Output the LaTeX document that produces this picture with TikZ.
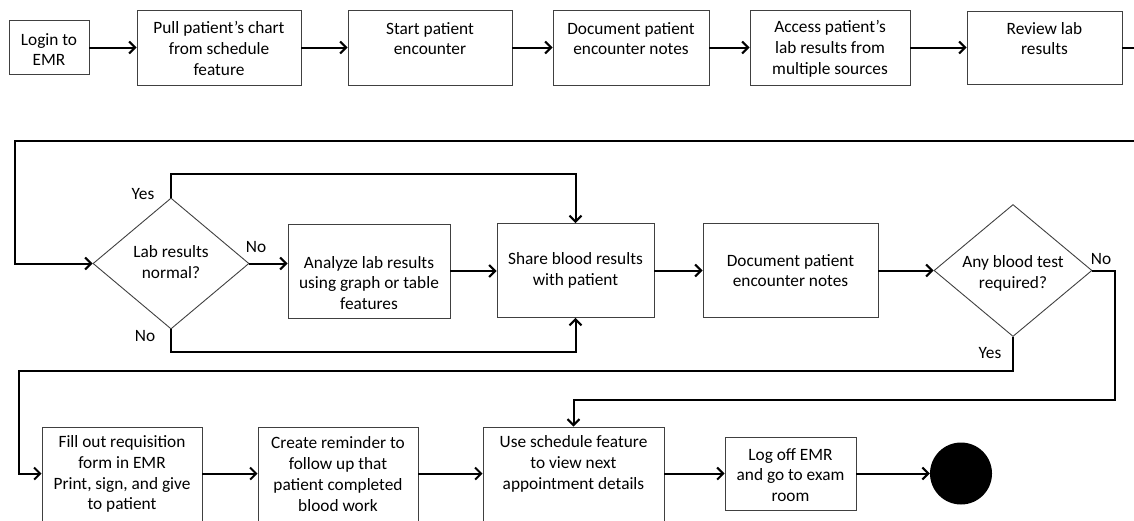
\documentclass[tikz,border=0pt]{standalone}
\usepackage{fontspec}
\setmainfont{Carlito}
\usetikzlibrary{arrows.meta,shapes.geometric}

\begin{document}
\begin{tikzpicture}[x=1pt,y=-1pt,
  box/.style={draw=black!75, line width=0.9pt, inner sep=0pt},
  dec/.style={diamond, draw=black!75, line width=0.9pt, inner sep=0pt},
  txt/.style={align=center, inner sep=0pt, font=\fontsize{17.3}{20.8}\selectfont},
  conn/.style={line width=2pt},
  arr/.style={conn, -{Straight Barb[length=6pt,width=12pt]}},
]
\useasboundingbox (0,0) rectangle (1134,520);
\clip (0,0) rectangle (1134,520);

% ---- first row ----
\node[box, minimum width=80pt,  minimum height=54pt] (login)  at (49,47.5) {};
\node[box, minimum width=164pt, minimum height=75pt] (pull)   at (219,47.5) {};
\node[box, minimum width=164pt, minimum height=75pt] (start)  at (430,47.5) {};
\node[box, minimum width=156pt, minimum height=75pt] (doca)   at (631,47.5) {};
\node[box, minimum width=160pt, minimum height=75pt] (access) at (830,47.5) {};
\node[box, minimum width=155pt, minimum height=73pt] (review) at (1044.5,47.5) {};

\node[txt] (login-t)  at (49,49.5) {Login to\\EMR};
\node[txt] (pull-t)   at (219,48.5) {Pull patient’s chart\\from schedule\\feature};
\node[txt] (start-t)  at (430,38.5) {Start patient\\encounter};
\node[txt] (doca-t)   at (631,38.5) {Document patient\\encounter notes};
\node[txt] (access-t) at (830,48.5) {Access patient’s\\lab results from\\multiple sources};
\node[txt] (review-t) at (1044.5,38.5) {Review lab\\results};

\draw[arr] (login.east) -- (pull.west);
\draw[arr] (pull.east) -- (start.west);
\draw[arr] (start.east) -- (doca.west);
\draw[arr] (doca.east) -- (access.west);
\draw[arr] (access.east) -- (review.west);

\coordinate (wrapa) at (1140,47.5);
\coordinate (wrapb) at (1140,141);
\coordinate (turna) at (15,141);
\draw[conn] (review.east) -- (wrapa);

% ---- second row ----
\node[dec, minimum width=156pt, minimum height=131pt] (normal) at (171,263.5) {};
\node[txt] (normal-t) at (171,262) {Lab results\\normal?};
\node[box, minimum width=162pt, minimum height=94pt] (analyze) at (369,271) {};
\node[txt] (analyze-t) at (369,283) {Analyze lab results\\using graph or table\\features};
\node[box, minimum width=157pt, minimum height=94pt] (share) at (575.5,270.5) {};
\node[txt] (share-t) at (575.5,270.5) {Share blood results\\with patient};
\node[box, minimum width=175pt, minimum height=94pt] (docb) at (790.5,270.5) {};
\node[txt] (docb-t) at (790.5,270.5) {Document patient\\encounter notes};
\node[dec, minimum width=158pt, minimum height=132pt] (anytest) at (1013,270.5) {};
\node[txt] (anytest-t) at (1013,273) {Any blood test\\required?};

\draw[arr] (wrapb) -- (turna) |- (normal.west);
\draw[arr] (normal.east) -- (normal.east -| analyze.west);
\draw[arr] (normal.north) -- ++(0,-24) -| (share.north);
\draw[arr] (normal.south) -- ++(0,23) -| (share.south);
\draw[arr] (analyze.east) -- (analyze.east -| share.west);
\draw[arr] (share.east) -- (docb.west);
\draw[arr] (docb.east) -- (anytest.west);

\node[txt] (yes-a) at (143,194) {Yes};
\node[txt] (no-a)  at (256,247) {No};
\node[txt] (no-b)  at (145,336) {No};
\node[txt] (no-c)  at (1101,259) {No};
\node[txt] (yes-b) at (990,353) {Yes};

% ---- third row ----
\node[box, minimum width=160pt, minimum height=118pt] (fill)   at (122,486) {};
\node[box, minimum width=160pt, minimum height=118pt] (remind) at (338,486) {};
\node[box, minimum width=181pt, minimum height=118pt] (sched)  at (573.5,486) {};
\node[box, minimum width=131pt, minimum height=73pt]  (logoff) at (790.5,473.5) {};
\node[circle, fill=black, inner sep=0pt, minimum size=62pt] (finish) at (961,473.5) {};

\node[txt] (fill-t)   at (122,474) {Fill out requisition\\form in EMR\\Print, sign, and give\\to patient};
\node[txt] (remind-t) at (338,474) {Create reminder to\\follow up that\\patient completed\\blood work};
\node[txt] (sched-t)  at (573.5,464) {Use schedule feature\\to view next\\appointment details};
\node[txt] (logoff-t) at (790.5,475) {Log off EMR\\and go to exam\\room};

\coordinate (noturn) at (1115,400);
\coordinate (yesturn) at (19,371);
\draw[arr] (anytest.east) -| (noturn) -| (sched.north);
\draw[arr] (anytest.south) |- (yesturn) |- ([yshift=-47pt]fill.north west);

\draw[arr] ([yshift=-47pt]fill.north east) -- ([yshift=-47pt]remind.north west);
\draw[arr] ([yshift=-47pt]remind.north east) -- ([yshift=-47pt]sched.north west);
\draw[arr] ([yshift=-47pt]sched.north east) -- ([yshift=-47pt]sched.north east -| logoff.west);
\draw[arr] (logoff.east) -- (finish.west);
\end{tikzpicture}
\end{document}
